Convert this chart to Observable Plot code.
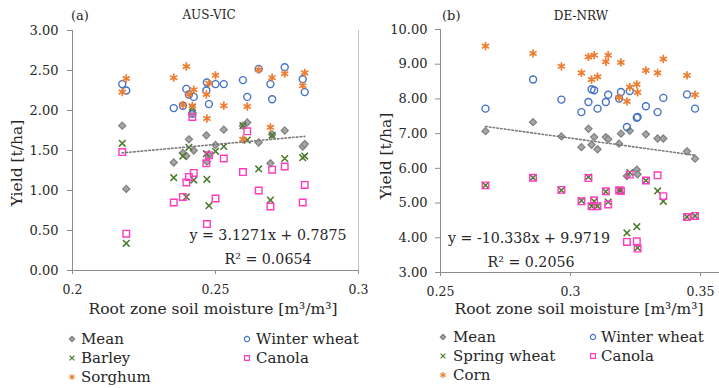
<!DOCTYPE html>
<html><head><meta charset="utf-8">
<script src="https://cdn.jsdelivr.net/npm/d3@7"></script>
<script src="https://cdn.jsdelivr.net/npm/@observablehq/plot@0.6"></script>
<style>
html,body{margin:0;padding:0;background:#fff;}
#wrap{position:relative;width:719px;height:388px;overflow:hidden;font-family:"DejaVu Serif",serif;color:#262626;background:#fff;}
.abs{position:absolute;white-space:nowrap;line-height:1;}
svg{overflow:visible;}
</style></head><body><div id="wrap"></div>
<script>
// ---------- AUS-VIC (panel a) ----------
const ausX       = [0.2174,0.2188,0.2354,0.2386,0.2398,0.2407,0.2419,0.2424,0.2468,0.2470,0.2477,0.2500,0.2529,0.2596,0.2611,0.2651,0.2692,0.2698,0.2742,0.2805,0.2812];
const ausMean    = [1.81,1.02,1.35,1.47,1.43,1.64,1.97,1.50,1.69,1.36,1.44,1.57,1.76,1.81,1.85,1.60,1.34,1.70,1.75,1.55,1.58];
const ausWheat   = [2.33,2.25,2.03,2.06,2.27,2.20,1.96,2.17,2.25,2.35,2.08,2.33,2.33,2.38,2.17,2.52,2.33,2.14,2.54,2.39,2.23];
const ausBarley  = [1.59,0.34,1.16,1.43,0.92,1.54,2.04,1.13,1.46,1.14,0.81,1.49,1.55,1.81,1.63,1.27,0.88,1.69,1.40,1.41,1.43];
const ausCanola  = [1.48,0.46,0.85,0.92,1.10,1.17,1.92,1.22,1.34,0.58,1.44,0.90,1.40,1.23,1.74,1.00,0.80,1.26,1.30,0.85,1.07];
const ausSorghum = [2.23,2.40,2.41,2.07,2.55,2.20,2.06,2.26,2.20,1.90,2.34,2.44,2.06,1.64,2.05,2.51,1.79,2.41,2.46,2.31,2.47];
const ausXTicks = [0.2,0.25,0.3];
const ausYTicks = [0,0.5,1,1.5,2,2.5,3];

// ---------- DE-NRW (panel b) ----------
const deX       = [0.2673,0.2856,0.2965,0.3042,0.3069,0.3081,0.3091,0.3104,0.3136,0.3145,0.3187,0.3194,0.3217,0.3228,0.3255,0.3258,0.3290,0.3335,0.3357,0.3448,0.3479];
const deMean    = [7.07,7.33,6.92,6.61,7.14,6.68,6.90,6.55,6.90,6.84,6.71,7.00,5.78,7.08,5.96,5.83,6.98,6.86,6.86,6.49,6.28];
const deWheat   = [7.72,8.56,7.98,7.62,7.91,8.28,8.25,7.72,7.91,8.12,8.01,8.20,7.19,8.23,7.46,7.48,7.79,7.62,8.03,8.13,7.72];
const deSpring  = [5.51,5.73,5.37,5.07,5.75,4.91,5.05,4.91,5.33,5.03,5.37,5.37,4.14,5.88,4.32,3.71,5.65,5.35,5.05,4.60,4.63];
const deCanola  = [5.51,5.73,5.38,5.05,5.72,4.91,5.08,4.91,5.34,4.96,5.37,5.35,3.88,5.82,3.90,3.69,5.65,5.80,5.20,4.60,4.63];
const deCorn    = [9.52,9.31,8.94,8.75,9.21,8.56,9.26,8.64,9.07,9.26,8.04,9.05,7.93,8.34,8.42,8.19,8.82,8.75,9.15,8.68,8.12];
const deXTicks = [0.25,0.3,0.35];
const deYTicks = [3,4,5,6,7,8,9,10];

// ---------- styles ----------
const axisColor = "#8c8c8c";
const textColor = "#262626";
const styleMean   = {symbol:"diamond2", fill:"#a6a6a6", stroke:"#7f7f7f", r:3.2, strokeWidth:1.2};
const styleWheat  = {symbol:"circle",   fill:"none",    stroke:"#4472c4", r:3.5, strokeWidth:1.4};
const styleSmall  = {symbol:"times",    fill:"none",    stroke:"#4b7a2c", r:3.1, strokeWidth:1.5};
const styleCanola = {symbol:"square",   fill:"none",    stroke:"#ff3cbe", r:3.7, strokeWidth:1.4};
const styleWarm   = {symbol:"asterisk", fill:"none",    stroke:"#ed7d31", r:3.9, strokeWidth:1.7};

const wrap = document.getElementById("wrap");
const fmtX = d => String(+d.toFixed(2));

function rows(xs, ys){ return xs.map((x,i)=>({x, y: ys[i]})); }

function panel(o){
  const series = o.series;
  const marks = [
    Plot.ruleY([o.yDomain[0]], {stroke: axisColor, strokeWidth:1}),
    Plot.ruleX([o.xDomain[0]], {stroke: axisColor, strokeWidth:1}),
  ];
  if (o.rightRule) marks.push(Plot.ruleX([o.rightRule], {y1:o.yDomain[0], y2:o.yDomain[1], stroke:"#c4c4c4", strokeWidth:1}));
  marks.push(Plot.axisY({ticks:o.yTicks, tickFormat:d3.format(".2f"), tickSize:5, tickPadding:o.yPad, fontSize:o.yFont, stroke:axisColor, fill:textColor, label:null}));
  marks.push(Plot.axisX({ticks:o.xTicks, tickFormat:fmtX, tickSize:4, tickPadding:11, fontSize:12.5, stroke:axisColor, fill:textColor, label:null}));
  for (const s of series) {
    marks.push(Plot.dot(rows(o.xs, s.vals), {x:"x", y:"y", ...s.style}));
  }
  marks.push(Plot.linearRegressionY(rows(o.xs, o.mean), {x:"x", y:"y", stroke:"#7a7a7a", strokeWidth:1.6, strokeDasharray:"1.6,2.2", ci:0}));
  const svg = Plot.plot({
    width:o.width, height:300,
    marginLeft:o.ml, marginRight:o.mr, marginTop:o.mt, marginBottom:o.mb,
    x:{domain:o.xDomain}, y:{domain:o.yDomain},
    style:{fontFamily:"DejaVu Serif", color:textColor, background:"transparent", overflow:"visible"},
    marks
  });
  svg.style.position = "absolute";
  svg.style.left = o.left + "px";
  svg.style.top = "0px";
  wrap.appendChild(svg);
}

panel({left:0, width:360, ml:72, mr:2, mt:30, mb:30,
  xDomain:[0.2,0.3], yDomain:[0,3], xTicks:ausXTicks, yTicks:ausYTicks, yPad:9, yFont:13,
  xs:ausX, mean:ausMean, rightRule:0.3,
  series:[{vals:ausMean,style:styleMean},{vals:ausWheat,style:styleWheat},{vals:ausBarley,style:styleSmall},{vals:ausCanola,style:styleCanola},{vals:ausSorghum,style:styleWarm}]
});
panel({left:360, width:366, ml:80, mr:0, mt:29, mb:28,
  xDomain:[0.25,0.36], yDomain:[3,10], xTicks:deXTicks, yTicks:deYTicks, yPad:8, yFont:13,
  xs:deX, mean:deMean,
  series:[{vals:deMean,style:styleMean},{vals:deWheat,style:styleWheat},{vals:deSpring,style:styleSmall},{vals:deCanola,style:styleCanola},{vals:deCorn,style:styleWarm}]
});

// ---------- text overlays ----------
function text(str, {cx, cy, left, size, rotate}){
  const d = document.createElement("div");
  d.className = "abs";
  d.textContent = str;
  d.style.fontSize = size + "px";
  d.style.top = cy + "px";
  if (left !== undefined) { d.style.left = left + "px"; d.style.transform = "translateY(-50%)"; }
  else { d.style.left = cx + "px"; d.style.transform = "translate(-50%,-50%)" + (rotate ? " rotate(-90deg)" : ""); }
  wrap.appendChild(d);
}
text("(a)", {left:71, cy:15, size:13});
text("AUS-VIC", {cx:209, cy:15, size:12});
text("(b)", {left:442, cy:15, size:13});
text("DE-NRW", {cx:581, cy:16, size:12});
text("Yield [t/ha]", {cx:18, cy:163, size:15.5, rotate:true});
text("Yield [t/ha]", {cx:387, cy:156, size:15.5, rotate:true});
text("Root zone soil moisture [m³/m³]", {cx:213, cy:310, size:15.5});
text("Root zone soil moisture [m³/m³]", {cx:579, cy:310, size:15.5});
text("y = 3.1271x + 0.7875", {cx:268, cy:235, size:14.2});
text("R² = 0.0654", {cx:268, cy:259, size:14.2});
text("y = -10.338x + 9.9719", {cx:529, cy:238, size:14.2});
text("R² = 0.2056", {cx:531, cy:262, size:14.2});

// ---------- legends ----------
const symMap = {diamond2:d3.symbolDiamond2, circle:d3.symbolCircle, times:d3.symbolTimes, square:d3.symbolSquare, asterisk:d3.symbolAsterisk};
function legendItem(label, style, mx, cy, tx){
  const ns = "http://www.w3.org/2000/svg";
  const s = document.createElementNS(ns, "svg");
  s.setAttribute("width", 12); s.setAttribute("height", 12);
  s.style.position = "absolute"; s.style.left = (mx-6)+"px"; s.style.top = (cy-6)+"px";
  const p = document.createElementNS(ns, "path");
  const r = style.r*0.75;
  p.setAttribute("d", d3.symbol(symMap[style.symbol], Math.PI*r*r)());
  p.setAttribute("transform", "translate(6,6)");
  p.setAttribute("fill", style.fill); p.setAttribute("stroke", style.stroke);
  p.setAttribute("stroke-width", 1.2);
  s.appendChild(p);
  wrap.appendChild(s);
  text(label, {left:tx, cy:cy, size:15});
}
const legRows = [339, 358, 377];
legendItem("Mean", styleMean, 72, legRows[0], 81);
legendItem("Winter wheat", styleWheat, 247, legRows[0], 256);
legendItem("Barley", styleSmall, 72, legRows[1], 81);
legendItem("Canola", styleCanola, 247, legRows[1], 256);
legendItem("Sorghum", styleWarm, 72, legRows[2], 81);

const legRows2 = [337, 356, 375];
legendItem("Mean", styleMean, 443, legRows2[0], 453);
legendItem("Winter wheat", styleWheat, 593, legRows2[0], 601);
legendItem("Spring wheat", styleSmall, 443, legRows2[1], 453);
legendItem("Canola", styleCanola, 593, legRows2[1], 601);
legendItem("Corn", styleWarm, 443, legRows2[2], 453);
</script></body></html>
